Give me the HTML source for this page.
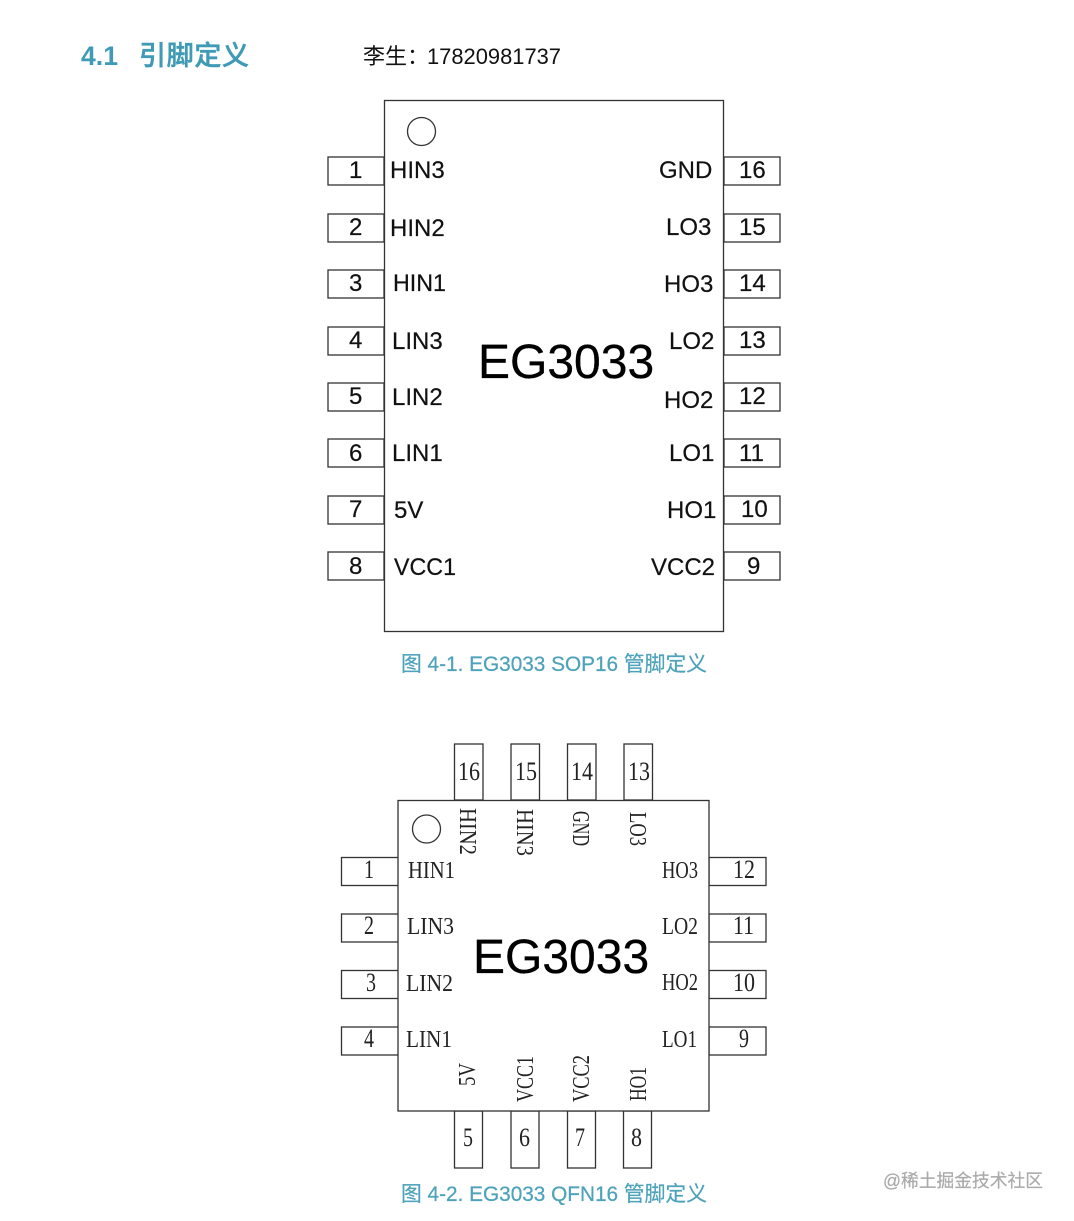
<!DOCTYPE html>
<html><head><meta charset="utf-8"><style>
html,body{margin:0;padding:0;background:#fff}
svg{display:block}
text{white-space:pre}
.s{font-family:"Liberation Sans","Noto Sans CJK SC",sans-serif;font-size:24px;fill:#111;stroke:#111;stroke-width:.2}
.q{font-family:"Liberation Serif","Noto Serif CJK SC",serif;font-size:24px;fill:#222}
.n{font-family:"Liberation Serif",serif;font-size:26px;fill:#222}
.c{font-family:"Liberation Sans","Noto Sans CJK SC",sans-serif;font-size:21px;fill:#4ea2ba;stroke:#4ea2ba;stroke-width:.25}
.b{font-family:"Liberation Sans",sans-serif;font-size:48px;fill:#000;stroke:#000;stroke-width:.3}
rect,circle{fill:#fff;stroke:#333;stroke-width:1.3}
</style></head><body>
<svg width="1074" height="1221" viewBox="0 0 1074 1221" xmlns="http://www.w3.org/2000/svg">
<text x="81" y="65" font-family="Liberation Sans" font-weight="bold" font-size="27" fill="#3f9ab6" textLength="37" lengthAdjust="spacingAndGlyphs">4.1</text>
<text x="139" y="65" font-family="Liberation Sans,Noto Sans CJK SC,sans-serif" font-size="27" font-weight="500" fill="#3f9ab6" stroke="#3f9ab6" stroke-width=".5" textLength="110">引脚定义</text>
<text x="363" y="64" font-family="Liberation Sans,Noto Sans CJK SC,sans-serif" font-size="22" fill="#111">李生：</text>
<text x="427" y="64" font-family="Liberation Sans,sans-serif" font-size="22.5" fill="#111" textLength="134" lengthAdjust="spacingAndGlyphs">17820981737</text>

<!-- SOP16 -->
<g>
<rect x="328" y="157" width="56" height="28"/><rect x="328" y="214" width="56" height="28"/><rect x="328" y="270" width="56" height="28"/><rect x="328" y="327" width="56" height="28"/><rect x="328" y="383" width="56" height="28"/><rect x="328" y="439" width="56" height="28"/><rect x="328" y="496" width="56" height="28"/><rect x="328" y="552" width="56" height="28"/>
<rect x="724" y="157" width="56" height="28"/><rect x="724" y="214" width="56" height="28"/><rect x="724" y="270" width="56" height="28"/><rect x="724" y="327" width="56" height="28"/><rect x="724" y="383" width="56" height="28"/><rect x="724" y="439" width="56" height="28"/><rect x="724" y="496" width="56" height="28"/><rect x="724" y="552" width="56" height="28"/>
<rect x="384.5" y="100.5" width="339" height="531"/>
<circle cx="421.5" cy="131.5" r="14"/>
</g>
<g>
<text class="s" x="349" y="178">1</text><text class="s" x="349" y="235">2</text><text class="s" x="349" y="291">3</text><text class="s" x="349" y="348">4</text><text class="s" x="349" y="404">5</text><text class="s" x="349" y="461">6</text><text class="s" x="349" y="517">7</text><text class="s" x="349" y="574">8</text>
<text class="s" x="739" y="178">16</text><text class="s" x="739" y="235">15</text><text class="s" x="739" y="291">14</text><text class="s" x="739" y="348">13</text><text class="s" x="739" y="404">12</text><text class="s" x="739" y="461">11</text><text class="s" x="741" y="517">10</text><text class="s" x="747" y="574">9</text>
<text class="s" x="390" y="178">HIN3</text><text class="s" x="390" y="236">HIN2</text><text class="s" x="393" y="291" textLength="53" lengthAdjust="spacingAndGlyphs">HIN1</text><text class="s" x="392" y="349">LIN3</text><text class="s" x="392" y="405">LIN2</text><text class="s" x="392" y="461">LIN1</text><text class="s" x="394" y="518">5V</text><text class="s" x="394" y="575" textLength="62" lengthAdjust="spacingAndGlyphs">VCC1</text>
<text class="s" x="659" y="178">GND</text><text class="s" x="666" y="235">LO3</text><text class="s" x="664" y="292">HO3</text><text class="s" x="669" y="349">LO2</text><text class="s" x="664" y="408">HO2</text><text class="s" x="669" y="461">LO1</text><text class="s" x="667" y="518">HO1</text><text class="s" x="651" y="575">VCC2</text>
</g>
<text class="b" x="478" y="378">EG3033</text>
<text class="c" x="401" y="671" textLength="306" lengthAdjust="spacingAndGlyphs">图 4-1. EG3033 SOP16 管脚定义</text>

<!-- QFN16 -->
<g>
<rect x="454.5" y="744" width="28.5" height="56"/><rect x="511" y="744" width="28.5" height="56"/><rect x="567.5" y="744" width="28.5" height="56"/><rect x="624" y="744" width="28.5" height="56"/>
<rect x="454.5" y="1111" width="28" height="57"/><rect x="511" y="1111" width="28" height="57"/><rect x="567.5" y="1111" width="28" height="57"/><rect x="623.5" y="1111" width="28" height="57"/>
<rect x="341.5" y="857.5" width="57" height="28"/><rect x="341.5" y="914" width="57" height="28"/><rect x="341.5" y="970.5" width="57" height="28"/><rect x="341.5" y="1027" width="57" height="28"/>
<rect x="709" y="857.5" width="57" height="28"/><rect x="709" y="914" width="57" height="28"/><rect x="709" y="970.5" width="57" height="28"/><rect x="709" y="1027" width="57" height="28"/>
<rect x="398" y="800.5" width="311" height="310.5"/>
<circle cx="426.5" cy="829" r="14"/>
</g>
<g>
<text class="n" x="458" y="780" textLength="22" lengthAdjust="spacingAndGlyphs">16</text><text class="n" x="515" y="780" textLength="22" lengthAdjust="spacingAndGlyphs">15</text><text class="n" x="571" y="780" textLength="22" lengthAdjust="spacingAndGlyphs">14</text><text class="n" x="628" y="780" textLength="22" lengthAdjust="spacingAndGlyphs">13</text>
<text class="n" x="463" y="1146" textLength="10" lengthAdjust="spacingAndGlyphs">5</text><text class="n" x="519" y="1146" textLength="11" lengthAdjust="spacingAndGlyphs">6</text><text class="n" x="575" y="1146" textLength="10" lengthAdjust="spacingAndGlyphs">7</text><text class="n" x="631" y="1146" textLength="11" lengthAdjust="spacingAndGlyphs">8</text>
<text class="n" x="364" y="878" textLength="10" lengthAdjust="spacingAndGlyphs">1</text><text class="n" x="364" y="934" textLength="10" lengthAdjust="spacingAndGlyphs">2</text><text class="n" x="366" y="991" textLength="10" lengthAdjust="spacingAndGlyphs">3</text><text class="n" x="364" y="1047" textLength="10" lengthAdjust="spacingAndGlyphs">4</text>
<text class="n" x="733" y="878" textLength="22" lengthAdjust="spacingAndGlyphs">12</text><text class="n" x="733" y="934" textLength="21" lengthAdjust="spacingAndGlyphs">11</text><text class="n" x="733" y="991" textLength="22" lengthAdjust="spacingAndGlyphs">10</text><text class="n" x="739" y="1047" textLength="10" lengthAdjust="spacingAndGlyphs">9</text>
<text class="q" x="408" y="878" textLength="47" lengthAdjust="spacingAndGlyphs">HIN1</text><text class="q" x="407" y="934" textLength="47" lengthAdjust="spacingAndGlyphs">LIN3</text><text class="q" x="406" y="991" textLength="47" lengthAdjust="spacingAndGlyphs">LIN2</text><text class="q" x="406" y="1047" textLength="46" lengthAdjust="spacingAndGlyphs">LIN1</text>
<text class="q" x="662" y="878" textLength="36" lengthAdjust="spacingAndGlyphs">HO3</text><text class="q" x="662" y="934" textLength="36" lengthAdjust="spacingAndGlyphs">LO2</text><text class="q" x="662" y="990" textLength="36" lengthAdjust="spacingAndGlyphs">HO2</text><text class="q" x="662" y="1047" textLength="35" lengthAdjust="spacingAndGlyphs">LO1</text>
<text class="q" transform="translate(460,808) rotate(90)" textLength="47" lengthAdjust="spacingAndGlyphs">HIN2</text>
<text class="q" transform="translate(517,809) rotate(90)" textLength="47" lengthAdjust="spacingAndGlyphs">HIN3</text>
<text class="q" transform="translate(573,811) rotate(90)" textLength="35" lengthAdjust="spacingAndGlyphs">GND</text>
<text class="q" transform="translate(630,812) rotate(90)" textLength="34" lengthAdjust="spacingAndGlyphs">LO3</text>
<text class="q" transform="translate(475,1086) rotate(-90)" textLength="23" lengthAdjust="spacingAndGlyphs">5V</text>
<text class="q" transform="translate(533,1102) rotate(-90)" textLength="46" lengthAdjust="spacingAndGlyphs">VCC1</text>
<text class="q" transform="translate(589,1102) rotate(-90)" textLength="47" lengthAdjust="spacingAndGlyphs">VCC2</text>
<text class="q" transform="translate(646,1101) rotate(-90)" textLength="34" lengthAdjust="spacingAndGlyphs">HO1</text>
</g>
<text class="b" x="473" y="973">EG3033</text>
<text class="c" x="401" y="1201" textLength="306" lengthAdjust="spacingAndGlyphs">图 4-2. EG3033 QFN16 管脚定义</text>
<text x="883" y="1187" font-family="Liberation Sans,Noto Sans CJK SC,sans-serif" font-size="18" fill="#aaa" stroke="#aaa" stroke-width=".2" textLength="160" lengthAdjust="spacingAndGlyphs">@稀土掘金技术社区</text>
</svg>
</body></html>
